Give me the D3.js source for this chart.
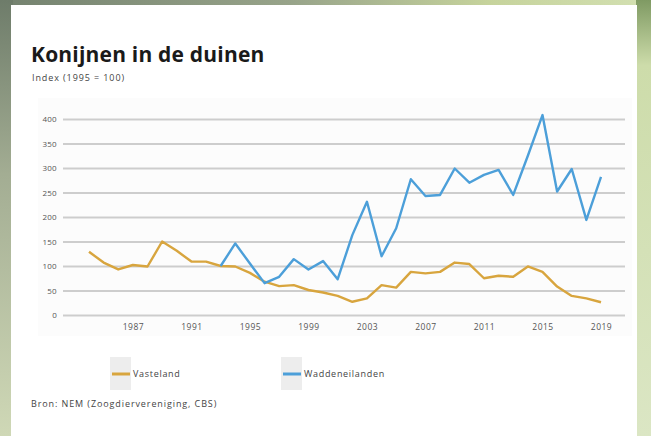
<!DOCTYPE html>
<html>
<head>
<meta charset="utf-8">
<script src="https://cdn.jsdelivr.net/npm/d3@7"></script>
<style>
  body { margin: 0; padding: 0; overflow: hidden; }
  svg { display: block; }
</style>
</head>
<body>
<div id="chart"></div>
<script>
// data
var years = d3.range(1984, 2020);
var vasteland = [129, 107, 93, 102, 99, 150, 131, 109, 109, 100, 99, 86, 68, 59, 61, 51, 46, 39, 27, 34,
                 61, 56, 88, 85, 88, 107, 104, 75, 80, 78, 99, 88, 58, 39, 34, 26];
var waddenYears = d3.range(1993, 2020);
var wadden = [100, 146, 105, 65, 78, 114, 93, 110, 73, 163, 231, 120, 177, 277, 243, 245, 299, 270, 286, 296,
              245, 325, 408, 252, 298, 194, 282];
var yTicks = [0, 50, 100, 150, 200, 250, 300, 350, 400];
var xTicks = [1987, 1991, 1995, 1999, 2003, 2007, 2011, 2015, 2019];
var seriesNames = ["Vasteland", "Waddeneilanden"];
var colors = ["#d8a53e", "#4c9fd9"];

var full_width = 651, full_height = 436;

var svg = d3.select("#chart").append("svg")
            .attr("width", full_width)
            .attr("height", full_height);

// background photo (blurred dune grass) - approximated with gradients
var defs = svg.append("defs");
var bg = defs.append("linearGradient").attr("id", "bg").attr("x1", 0).attr("y1", 0).attr("x2", 1).attr("y2", 0);
bg.append("stop").attr("offset", "0%").attr("stop-color", "#74826f");
bg.append("stop").attr("offset", "45%").attr("stop-color", "#98a48a");
bg.append("stop").attr("offset", "75%").attr("stop-color", "#c6d39c");
bg.append("stop").attr("offset", "100%").attr("stop-color", "#d3e0b2");
var bgV = defs.append("linearGradient").attr("id", "bgv").attr("x1", 0).attr("y1", 0).attr("x2", 0).attr("y2", 1);
bgV.append("stop").attr("offset", "0%").attr("stop-color", "#6e7c6a");
bgV.append("stop").attr("offset", "40%").attr("stop-color", "#a3ad93");
bgV.append("stop").attr("offset", "100%").attr("stop-color", "#cfd8b6");
var bgR = defs.append("linearGradient").attr("id", "bgr").attr("x1", 0).attr("y1", 0).attr("x2", 0).attr("y2", 1);
bgR.append("stop").attr("offset", "0%").attr("stop-color", "#7f9a63");
bgR.append("stop").attr("offset", "15%").attr("stop-color", "#cddcaa");
bgR.append("stop").attr("offset", "100%").attr("stop-color", "#dbe6c4");

svg.append("rect").attr("width", full_width).attr("height", full_height).attr("fill", "url(#bg)");
svg.append("rect").attr("x", 0).attr("y", 0).attr("width", 13).attr("height", full_height).attr("fill", "url(#bgv)");
svg.append("rect").attr("x", 636).attr("y", 0).attr("width", 15).attr("height", full_height).attr("fill", "url(#bgr)");

// white card
svg.append("rect").attr("x", 11).attr("y", 5).attr("width", 626).attr("height", 431).attr("fill", "#ffffff");
svg.append("rect").attr("x", 38).attr("y", 98).attr("width", 594).attr("height", 238).attr("fill", "#fcfcfc");

// titles
svg.append("text").attr("x", 31).attr("y", 62)
   .attr("font-family", "Open Sans").attr("font-weight", "bold").attr("font-size", 21)
   .attr("fill", "#1a1a1a").attr("letter-spacing", 0.2)
   .text("Konijnen in de duinen");
svg.append("text").attr("x", 32).attr("y", 81)
   .attr("font-family", "Open Sans").attr("font-size", 9).attr("letter-spacing", 0.9)
   .attr("fill", "#444").text("Index (1995 = 100)");

// scales
var x = d3.scaleLinear().domain([1984, 2019]).range([89, 601]);
var y = d3.scaleLinear().domain([0, 400]).range([315, 119]);

var plot = svg.append("g");

// gridlines
var yAxis = d3.axisLeft(y).tickValues(yTicks).tickSize(-(625 - 63)).tickPadding(6);
plot.append("g").attr("class", "y_axis")
    .attr("transform", "translate(63,0)")
    .call(yAxis)
    .call(function(g){
        g.select(".domain").remove();
        g.selectAll(".tick line").attr("stroke", "#cdcdcd").attr("stroke-width", 2);
        g.selectAll(".tick text").attr("font-family", "Open Sans").attr("font-size", 8).attr("letter-spacing", 0.3).attr("fill", "#555");
    });

var xAxis = d3.axisBottom(x).tickValues(xTicks).tickFormat(d3.format("d")).tickSize(0).tickPadding(9);
plot.append("g").attr("class", "x_axis")
    .attr("transform", "translate(0,315)")
    .call(xAxis)
    .call(function(g){
        g.select(".domain").remove();
        g.selectAll(".tick text").attr("font-family", "Open Sans").attr("font-size", 8.5).attr("letter-spacing", 0.5).attr("fill", "#555");
    });

// lines
var line = d3.line()
             .x(function(d){ return x(d.year) })
             .y(function(d){ return y(d.value) });

var dataVasteland = years.map(function(yr, i){ return {year: yr, value: vasteland[i]} });
var dataWadden = waddenYears.map(function(yr, i){ return {year: yr, value: wadden[i]} });

plot.append("g").attr("class", "lines")
    .selectAll("path")
    .data([dataVasteland, dataWadden])
    .enter()
    .append("path")
    .attr("d", line)
    .attr("fill", "none")
    .attr("stroke", function(d, i){ return colors[i] })
    .attr("stroke-width", 2.4)
    .attr("stroke-linejoin", "round");

// legend
var legendX = [110, 281];
var legend = svg.append("g").selectAll("g")
    .data(seriesNames)
    .enter()
    .append("g")
    .attr("transform", function(d, i){ return "translate(" + legendX[i] + ",0)" });
legend.append("rect").attr("x", 0).attr("y", 357).attr("width", 21).attr("height", 33).attr("fill", "#ededed");
legend.append("line").attr("x1", 2).attr("x2", 20).attr("y1", 374).attr("y2", 374)
      .attr("stroke", function(d, i){ return colors[i] }).attr("stroke-width", 3);
legend.append("text").attr("x", 23).attr("y", 377)
      .attr("font-family", "Open Sans").attr("font-size", 9).attr("letter-spacing", 0.7).attr("fill", "#444")
      .text(function(d){ return d });

// source
svg.append("text").attr("x", 31).attr("y", 407)
   .attr("font-family", "Open Sans").attr("font-size", 9).attr("letter-spacing", 0.9).attr("fill", "#444")
   .text("Bron: NEM (Zoogdiervereniging, CBS)");
</script>
</body>
</html>
